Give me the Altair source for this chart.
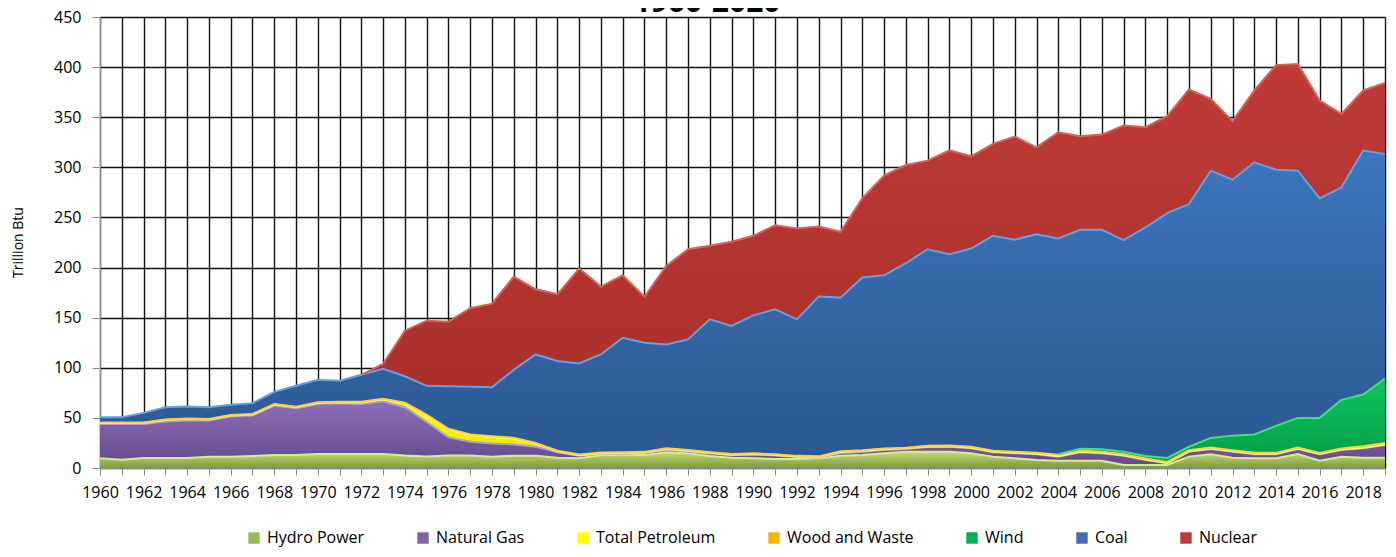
import altair as alt
import pandas as pd

years = list(range(1960, 2020))

hydro = [9.7, 8.3, 10, 10, 10, 11.3, 11.3, 12, 13, 13,
         14, 14, 14, 14, 12.5, 11.5, 12.5, 12.5, 11.3, 12.3,
         12.3, 10.3, 9.7, 13, 13, 13, 15.7, 14.7, 12, 10.3,
         9.7, 9, 9, 9.7, 12.3, 13, 14.7, 16.3, 16.3, 16.3,
         14.7, 11.3, 9.7, 8, 7.3, 7.3, 7.3, 3, 3, 3,
         11.3, 13.7, 10.3, 9.7, 9.7, 14, 7.3, 11.3, 10.3, 10.3]

natural_gas = [34.2, 35.6, 33.9, 36.3, 37.3, 36, 40, 40.3, 49.3, 46.6,
               49.9, 50.6, 49.9, 52.6, 48.1, 34.5, 18, 13.8, 13.2, 11.2,
               9, 5.4, 2.6, 1.3, 1.5, 2, 2.3, 1.8, 2.5, 2.5,
               3.8, 3.5, 2, 0.8, 2.7, 3, 3.3, 2.7, 4.7, 5,
               5, 4.4, 5, 5.7, 4, 8.4, 7.4, 9.3, 5, 1.7,
               5, 5.3, 6, 4, 4, 5, 6.4, 6.7, 9.4, 12.7]

petroleum = [1, 1, 1, 1.5, 1.5, 1, 1, 1, 1, 1,
             1, 1, 1.5, 2, 4, 6.5, 8, 6.5, 6.5, 6,
             3, 1, 0.5, 0.5, 0.5, 0.5, 1, 0.8, 0.7, 0.5,
             0.5, 0.5, 0.5, 0.5, 1, 1, 0.8, 0.6, 0.5, 0.5,
             0.4, 0.5, 0.5, 0.4, 0.4, 0.4, 0.4, 0.4, 0.4, 0.4,
             0.4, 0.4, 0.4, 0.4, 0.4, 0.4, 0.4, 0.4, 0.4, 0.4]

wood_waste = [0.6, 0.6, 0.6, 0.6, 0.6, 0.6, 0.6, 0.6, 0.6, 0.6,
              0.6, 0.6, 0.6, 0.6, 0.6, 0.6, 0.6, 0.6, 0.6, 0.6,
              0.6, 0.6, 0.6, 0.6, 0.6, 0.6, 0.6, 0.6, 0.6, 0.6,
              0.6, 0.6, 0.6, 0.6, 0.6, 0.6, 0.6, 0.6, 0.6, 0.6,
              1, 1, 1, 1, 1.5, 1, 1, 1, 1, 1,
              1, 1, 1, 1, 1, 1, 1, 1, 1.5, 1.5]

wind = [0, 0, 0, 0, 0, 0, 0, 0, 0, 0,
        0, 0, 0, 0, 0, 0, 0, 0, 0, 0,
        0, 0, 0, 0, 0, 0, 0, 0, 0, 0,
        0, 0, 0, 0, 0, 0, 0, 0, 0, 0,
        0, 0, 0, 0, 0.5, 2, 2.5, 2.5, 2.5, 4,
        3.5, 9.6, 14.6, 18.3, 26.9, 29.6, 34.9, 48.6, 51.7, 64.4]

coal = [5.1, 5.1, 9.5, 12.2, 11.9, 11.7, 10.1, 10.7, 12.1, 20.8,
        22.5, 20.8, 27, 29.7, 26.3, 28.9, 42.5, 47.6, 49, 67.9,
        88.4, 89.4, 90.9, 97.9, 114.4, 108.9, 103.7, 110.4, 132.5, 127.8,
        137.7, 144.7, 136.2, 159.4, 153.4, 172.4, 172.9, 184.1, 196.2, 190.9,
        197.9, 214.6, 211.6, 218.2, 215.3, 218.6, 219.1, 211.1, 228.1, 244.2,
        242.1, 266.7, 255.4, 271.6, 255.7, 246.7, 219, 212, 243.4, 224]

nuclear = [0, 0, 0, 0, 0, 0, 0, 0, 0, 0,
           0, 0, 0, 5.1, 45.5, 65, 64.4, 78.5, 83.4, 93,
           65, 66.6, 94.7, 67.7, 62.3, 45.7, 78.4, 90, 73.4, 84,
           79.4, 84, 90.7, 70, 65.7, 79, 99.4, 98, 88.4, 103.7,
           92, 91.6, 103, 86.7, 106, 93.3, 95, 114.4, 100, 96.7,
           114.4, 71.6, 58.3, 71.7, 104.3, 106.3, 97.7, 73.3, 60, 71]

names = ["Hydro Power", "Natural Gas", "Total Petroleum", "Wood and Waste",
         "Wind", "Coal", "Nuclear"]
series = [hydro, natural_gas, petroleum, wood_waste, wind, coal, nuclear]

legend_colors = ["#9BBB59", "#8064A2", "#FFFF00", "#F2B600", "#00B050", "#3F6FB0", "#B83B36"]
grad_top = ["#c3dc78", "#8d6fb8", "#ffff10", "#f5b800", "#12c462", "#3d76bd", "#be3b36"]
grad_bot = ["#7f9a3c", "#654a8c", "#e6e600", "#e0a000", "#00a045", "#2b5890", "#a92f2b"]
highlight = ["#d6ec92", "#b39be0", "#ffff70", "#ffcf40", "#40e07f", "#63a0e4", "#d8605a"]
line_start = [1960, 1960, 1960, 1960, 2004, 1960, 1972]

rows = []
for order, (name, vals) in enumerate(zip(names, series)):
    for yr, v in zip(years, vals):
        rows.append({"Year": yr, "Source": name, "Value": v, "order": order})
df = pd.DataFrame(rows)

base = alt.Chart(df).transform_stack(
    stack="Value", groupby=["Year"], as_=["y0", "y1"],
    sort=[alt.SortField(field="order", order="ascending")]
)

x_enc = alt.X(
    "Year:Q",
    scale=alt.Scale(domain=[1960, 2019], nice=False, zero=False),
    axis=alt.Axis(
        values=years, format="d",
        labelExpr="datum.value % 2 == 0 ? datum.label : ''",
        labelOverlap=False, labelFlush=False,
        title=None, grid=True, gridColor="#111111", gridWidth=1.4,
        domainColor="#8c8c8c", tickColor="#8c8c8c", tickSize=7,
        labelFont="Open Sans", labelFontSize=16, labelColor="#000000",
        labelPadding=9,
    ),
)
y_enc = alt.Y(
    "y1:Q",
    scale=alt.Scale(domain=[0, 450], nice=False),
    axis=alt.Axis(
        values=list(range(0, 451, 50)), title="Trillion Btu",
        grid=True, gridColor="#111111", gridWidth=1.4,
        domainColor="#8c8c8c", tickColor="#8c8c8c", tickSize=8,
        labelFont="Open Sans", labelFontSize=16, labelColor="#000000",
        labelPadding=11, labelFlush=False,
        titleFont="Open Sans", titleFontSize=14, titleFontWeight="normal",
        titleColor="#000000", titleX=-82, titleY=225, titleAngle=270,
        titleAlign="center", titleBaseline="middle",
    ),
)

areas = []
lines = []
for i, name in enumerate(names):
    grad = alt.LinearGradient(
        gradient="linear",
        stops=[alt.GradientStop(color=grad_top[i], offset=0),
               alt.GradientStop(color=grad_bot[i], offset=1)],
        x1=0, x2=0, y1=0, y2=1,
    )
    areas.append(
        base.transform_filter(alt.datum.Source == name)
        .mark_area(color=grad, line=False)
        .encode(x=x_enc, y=y_enc, y2="y0:Q")
    )
    lines.append(
        base.transform_filter(alt.datum.Source == name)
        .transform_filter(alt.datum.Year >= line_start[i])
        .mark_line(color=highlight[i], strokeWidth=2)
        .encode(x=x_enc, y=y_enc)
    )

legend_layer = (
    alt.Chart(df)
    .transform_filter(alt.datum.Value < -1)
    .mark_square(size=130, opacity=1)
    .encode(
        color=alt.Color(
            "Source:N",
            scale=alt.Scale(domain=names, range=legend_colors),
            legend=alt.Legend(
                orient="none", legendX=146, legendY=513, direction="horizontal",
                title=None, columns=7, columnPadding=50,
                labelFont="Open Sans", labelFontSize=16, labelColor="#000000",
                symbolType="square", symbolSize=130, labelOffset=5,
                symbolStrokeWidth=0,
            ),
        )
    )
)

title_layer = (
    alt.Chart(pd.DataFrame({"t": ["1960-2020"]}))
    .mark_text(font="Open Sans", fontSize=30, fontWeight="bold", color="#000000",
               align="center", baseline="alphabetic")
    .encode(text="t:N", x=alt.value(607), y=alt.value(-5))
)

chart = (
    alt.layer(*areas, *lines, legend_layer, title_layer)
    .properties(
        width=1285, height=451,
        autosize=alt.AutoSizeParams(type="none"),
        padding={"left": 92, "top": 9, "right": 3, "bottom": 80},
        background="white",
    )
    .configure_view(stroke=None)
)

chart.save("out.html", embed_options={"renderer": "svg", "actions": False})
